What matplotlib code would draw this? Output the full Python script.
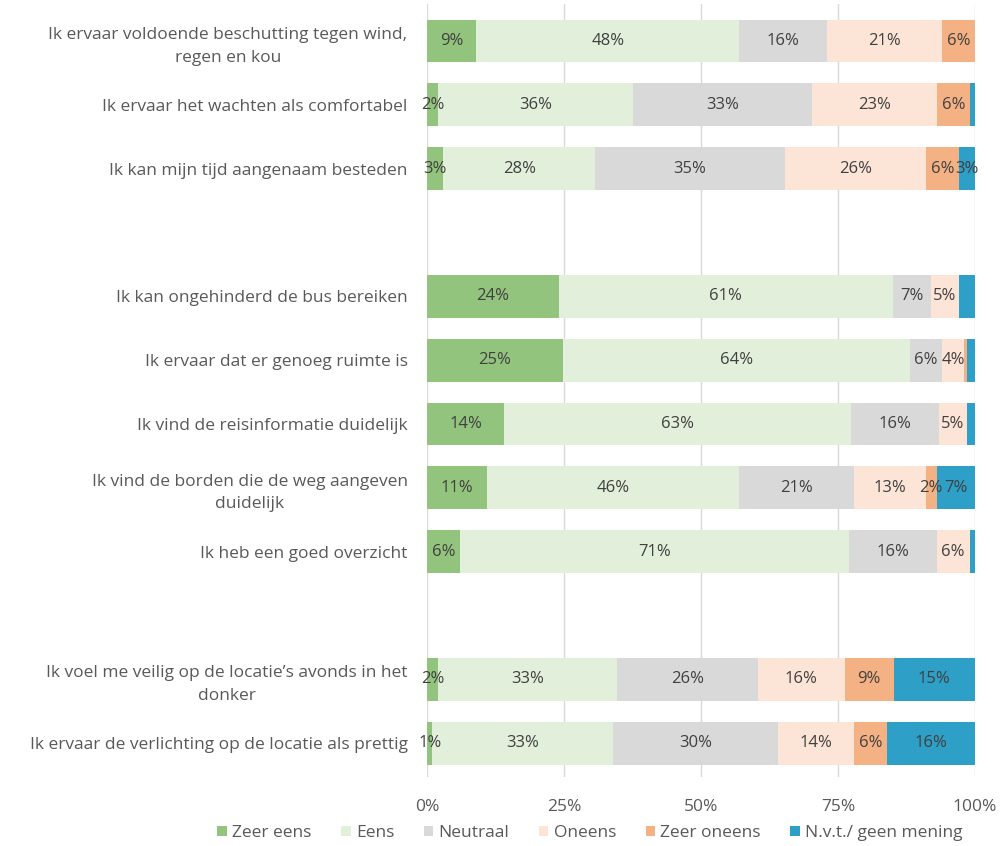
import matplotlib
matplotlib.use("Agg")
import matplotlib.pyplot as plt
import numpy as np
from matplotlib.patches import Patch

plt.rcParams['font.family'] = ['Open Sans', 'DejaVu Sans']

statements = [
    "Ik ervaar voldoende beschutting tegen wind,\nregen en kou",
    "Ik ervaar het wachten als comfortabel",
    "Ik kan mijn tijd aangenaam besteden",
    None,
    "Ik kan ongehinderd de bus bereiken",
    "Ik ervaar dat er genoeg ruimte is",
    "Ik vind de reisinformatie duidelijk",
    "Ik vind de borden die de weg aangeven\nduidelijk",
    "Ik heb een goed overzicht",
    None,
    "Ik voel me veilig op de locatie\u2019s avonds in het\ndonker",
    "Ik ervaar de verlichting op de locatie als prettig",
]

categories = ["Zeer eens", "Eens", "Neutraal", "Oneens", "Zeer oneens", "N.v.t./ geen mening"]

zeer_eens   = [9, 2, 3, None, 24, 25, 14, 11, 6, None, 2, 1]
eens        = [48, 36, 28, None, 61, 64, 63, 46, 71, None, 33, 33]
neutraal    = [16, 33, 35, None, 7, 6, 16, 21, 16, None, 26, 30]
oneens      = [21, 23, 26, None, 5, 4, 5, 13, 6, None, 16, 14]
zeer_oneens = [6, 6, 6, None, 0, 0.5, 0, 2, 0, None, 9, 6]
nvt         = [0, 1, 3, None, 3, 1.5, 1.5, 7, 1, None, 15, 16]

# labels removed in the original chart: (row, series)
hidden_labels = {(1, 5), (4, 5), (5, 4), (5, 5), (6, 5), (8, 5)}

colors = ["#93c47d", "#e2efda", "#d9d9d9", "#fce4d6", "#f4b183", "#2e9fc6"]

series = [zeer_eens, eens, neutraal, oneens, zeer_oneens, nvt]

fig = plt.figure(figsize=(10, 8.46), dpi=100)
ax = fig.add_axes([0.427, 0.0816, 0.548, 0.9137])

n = len(statements)
left = np.zeros(n)
rows = [i for i in range(n) if statements[i] is not None]
totals = np.array([sum(s[i] for s in series) if statements[i] is not None else 1 for i in range(n)], dtype=float)

for si, (vals, col) in enumerate(zip(series, colors)):
    for i in rows:
        v = vals[i]
        w = v / totals[i] * 100
        if w > 0:
            ax.barh(i, w, left=left[i], height=0.67, color=col, edgecolor='none', zorder=2)
            if (i, si) not in hidden_labels and v >= 1:
                ax.text(left[i] + w / 2, i, f"{round(v)}%", ha='center', va='center',
                        fontsize=12, color='#404040', zorder=3)
        left[i] += w

ax.set_xlim(0, 100)
ax.set_ylim(11.53, -0.58)
ax.set_xticks([0, 25, 50, 75, 100])
ax.set_xticklabels(["0%", "25%", "50%", "75%", "100%"], fontsize=12.5, color='#595959')
ax.set_yticks(rows)
ax.set_yticklabels([statements[i] for i in rows], fontsize=12.5, color='#595959',
                   multialignment='center', linespacing=1.55)
ax.tick_params(axis='both', length=0)
ax.tick_params(axis='y', pad=14)
ax.tick_params(axis='x', pad=16)
ax.grid(axis='x', color='#d9d9d9', linewidth=1, zorder=0)
ax.set_axisbelow(True)
for s in ax.spines.values():
    s.set_visible(False)

handles = [Patch(facecolor=c, edgecolor='none') for c in colors]
fig.legend(handles, categories, loc='center', bbox_to_anchor=(0.59, 0.015), ncol=6,
           frameon=False, fontsize=12.5, handlelength=0.55, handleheight=0.55,
           handletextpad=0.3, columnspacing=1.7, labelcolor='#595959')

fig.savefig("out.png", dpi=100)
